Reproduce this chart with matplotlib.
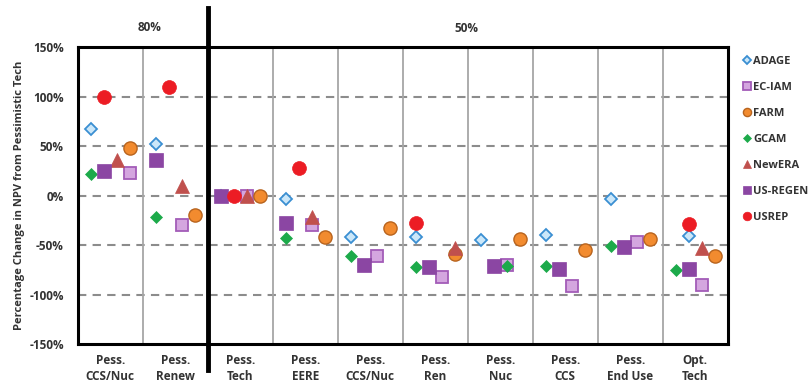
import numpy as np
import matplotlib
matplotlib.use("Agg")
import matplotlib.pyplot as plt
from matplotlib.lines import Line2D

plt.rcParams['font.family'] = ['Open Sans', 'DejaVu Sans']
plt.rcParams['font.weight'] = 'bold'

# scenario categories (two groups: 80% and 50% reduction targets)
categories = ["Pess.\nCCS/Nuc", "Pess.\nRenew", "Pess.\nTech", "Pess.\nEERE",
              "Pess.\nCCS/Nuc", "Pess.\nRen", "Pess.\nNuc", "Pess.\nCCS",
              "Pess.\nEnd Use", "Opt.\nTech"]
group_labels = ["80%", "50%"]

nan = np.nan
# percentage change in NPV, one list per model
adage = [67, 52, 0, -3, -42, -42, -45, -40, -3, -41]
ec_iam = [23, -30, 0, -30, -61, -82, -70, -91, -47, -90]
farm = [48, -19, 0, -42, -33, -59, -44, -55, -44, -61]
gcam = [22, -21, 0, -43, -61, -72, -71, -71, -51, -75]
newera = [36, 10, 0, -21, nan, -53, nan, nan, nan, -53]
us_regen = [25, 36, 0, -27, -70, -72, -71, -74, -52, -74]
usrep = [100, 110, 0, 28, nan, -27, nan, nan, nan, -28]

# which of the four sub-columns each point sits in
adage_slot = [1, 1, 1, 1, 1, 1, 1, 1, 1, 2]
ec_iam_slot = [4, 3, 3, 3, 3, 3, 3, 3, 3, 3]
farm_slot = [4, 4, 4, 4, 4, 4, 4, 4, 4, 4]
gcam_slot = [1, 1, 1, 1, 1, 1, 3, 1, 1, 1]
newera_slot = [3, 3, 3, 3, 3, 4, 3, 3, 3, 3]
us_regen_slot = [2, 1, 1, 1, 2, 2, 2, 2, 2, 2]
usrep_slot = [2, 2, 2, 2, 2, 1, 2, 2, 2, 2]

models = [
    ("ADAGE", adage, adage_slot, dict(marker='D', ms=6.2, mfc='#cbe7f9', mec='#3a8fd2', mew=1.3)),
    ("EC-IAM", ec_iam, ec_iam_slot, dict(marker='s', ms=9.0, mfc='#d4a6df', mec='#a35cb8', mew=1.3)),
    ("FARM", farm, farm_slot, dict(marker='o', ms=9.5, mfc='#f28b2f', mec='#b8641e', mew=1.0)),
    ("GCAM", gcam, gcam_slot, dict(marker='D', ms=6.2, mfc='#1caa4a', mec='#1caa4a', mew=0.5)),
    ("NewERA", newera, newera_slot, dict(marker='^', ms=9.5, mfc='#c0504d', mec='#c0504d', mew=0.5)),
    ("US-REGEN", us_regen, us_regen_slot, dict(marker='s', ms=9.5, mfc='#8b46a3', mec='#8b46a3', mew=0.5)),
    ("USREP", usrep, usrep_slot, dict(marker='o', ms=10.0, mfc='#ec1c24', mec='#ec1c24', mew=0.5)),
]

fig = plt.figure(figsize=(8.12, 3.85), dpi=100)
ax = fig.add_axes([0.0957, 0.1057, 0.8005, 0.7715])

n = len(categories)
xc = np.arange(n)
for name, vals, slot, style in models:
    x = xc - 0.5 + np.array(slot) * 0.2
    ax.plot(x, vals, linestyle='none', label=name, zorder=3, **style)

ax.set_xlim(-0.5, n - 0.5)
ax.set_ylim(-150, 150)
ax.set_yticks(np.arange(-150, 151, 50))
ax.set_yticklabels([f"{v}%" for v in range(-150, 151, 50)], fontsize=8.5,
                   color='#333333', fontweight='bold')
ax.set_xticks(xc)
ax.set_xticklabels(categories, fontsize=8.5, color='#333333', linespacing=1.25,
                   fontweight='bold')
ax.tick_params(axis='y', length=0, pad=10)
ax.tick_params(axis='x', length=0, pad=7)

# dashed horizontal grid, solid vertical separators
for v in (-100, -50, 0, 50, 100):
    ax.axhline(v, color='#8c8c8c', lw=1.5, ls=(0, (4, 3)), zorder=1)
for b in np.arange(0.5, n - 0.5):
    ax.axvline(b, color='#a6a6a6', lw=1.3, zorder=1)

for s in ax.spines.values():
    s.set_linewidth(2.2)
    s.set_color('black')

# thick divider between the 80% and 50% cases
ax.axvline(1.5, ymin=-0.087, ymax=1.132, color='black', lw=3.5, clip_on=False, zorder=4)

trans = ax.get_xaxis_transform()
ax.text(0.61, 1.067, group_labels[0], transform=trans, ha='center', va='center',
        fontsize=8.5, color='#333333', fontweight='bold')
ax.text(5.48, 1.064, group_labels[1], transform=trans, ha='center', va='center',
        fontsize=8.5, color='#333333', fontweight='bold')

ax.set_ylabel("Percentage Change in NPV from Pessimistic Tech", fontsize=8,
              color='#333333', labelpad=3, fontweight='bold')

handles = [Line2D([], [], linestyle='none', **{**st, 'ms': st['ms'] * 0.62}) for _, _, _, st in models]
leg = ax.legend(handles, [m[0] for m in models], loc='upper left', bbox_to_anchor=(1.017, 0.985),
                frameon=False, fontsize=8, labelspacing=1.35, handlelength=0.6,
                handletextpad=0.3, borderaxespad=0)
for t in leg.get_texts():
    t.set_fontweight('bold')
    t.set_color('#333333')

fig.savefig("out.png", dpi=100)
